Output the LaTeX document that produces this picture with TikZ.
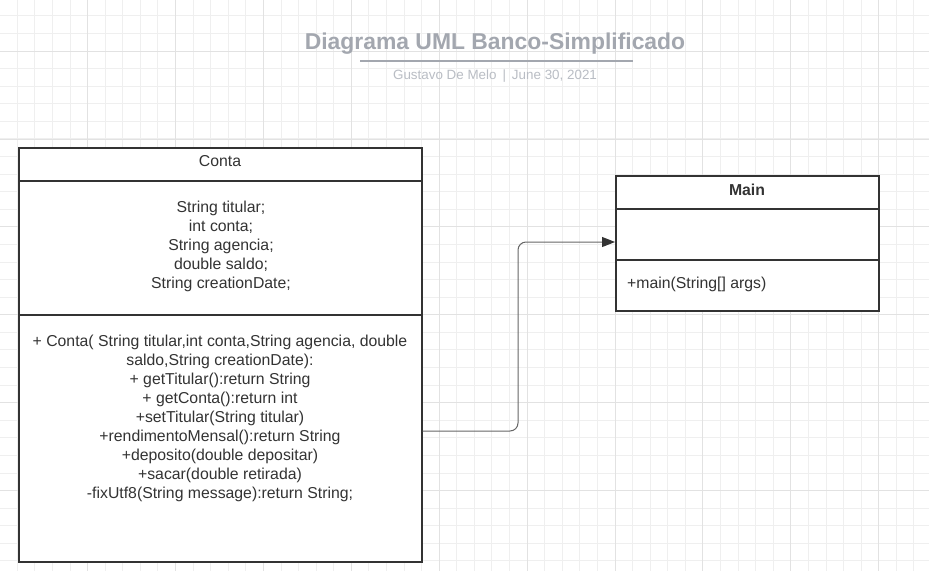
\documentclass[tikz,border=0pt]{standalone}
\usepackage{fontspec}
\setmainfont{Liberation Sans}
\usetikzlibrary{arrows.meta}
\definecolor{gridminor}{HTML}{EFEFEF}
\definecolor{gridmajor}{HTML}{E2E2E2}
\definecolor{titlegray}{HTML}{A3A7AF}
\definecolor{subgray}{HTML}{B9BDC4}
\definecolor{ink}{HTML}{333333}
\definecolor{wire}{HTML}{666666}
\tikzset{
  umlbox/.style={draw=ink, line width=1.6pt, fill=white, rectangle, inner sep=0pt, anchor=north west, text=ink, font=\fontsize{15.8}{19}\selectfont},
  bodytext/.style={text=ink, font=\fontsize{15.8}{19}\selectfont, align=center, inner sep=0pt},
  conn/.style={draw=wire, line width=1pt, rounded corners=8pt, -{Triangle[length=13pt,width=10pt,fill=ink,color=ink]}}
}
\begin{document}
\begin{tikzpicture}[x=1pt,y=-1pt]
\useasboundingbox (0,0) rectangle (929,571);
\fill[white] (0,0) rectangle (929,571);
% grid
\foreach \i in {0,...,53} {
  \pgfmathsetmacro{\gx}{-0.4+17.58*\i}
  \draw[gridminor, line width=0.7pt] (\gx,0) -- (\gx,571);
}
\foreach \i in {0,...,33} {
  \pgfmathsetmacro{\gy}{-1.8+17.58*\i}
  \draw[gridminor, line width=0.7pt] (0,\gy) -- (929,\gy);
}
\foreach \i in {0,...,10} {
  \pgfmathsetmacro{\gx}{-0.4+87.9*\i}
  \draw[gridmajor, line width=0.8pt] (\gx,0) -- (\gx,571);
}
\foreach \i in {0,...,6} {
  \pgfmathsetmacro{\gy}{51-87.9+87.9*\i}
  \draw[gridmajor, line width=0.8pt] (0,\gy) -- (929,\gy);
}
% title
\node[text=titlegray, font=\fontsize{22.9}{26}\selectfont\bfseries, inner sep=0pt] (title) at (495,44) {Diagrama UML Banco-Simplificado};
\draw[titlegray, line width=1.5pt] (360,61) -- (633,61);
\node[text=subgray, font=\fontsize{13.4}{15}\selectfont, inner sep=0pt] (sub) at (495,76) {Gustavo De Melo \,|\, June 30, 2021};
% Conta
\node[umlbox, minimum width=403pt, minimum height=33pt] (contaH) at (18,147) {};
\node[bodytext] (contaT) at (220,161.5) {Conta};
\node[umlbox, minimum width=403pt, minimum height=134pt] (contaA) at (18,180) {};
\node[umlbox, minimum width=403pt, minimum height=247pt] (contaM) at (18,314) {};
\node[bodytext] (attrs) at (221,246) {String titular;\\int conta;\\String agencia;\\double saldo;\\String creationDate;};
\node[bodytext, anchor=north] (meths) at (220,335) {+ Conta( String titular,int conta,String agencia, double\\saldo,String creationDate):\\+ getTitular():return String\\+ getConta():return int\\+setTitular(String titular)\\+rendimentoMensal():return String\\+deposito(double depositar)\\+sacar(double retirada)\\-fixUtf8(String message):return String;};
% Main
\node[umlbox, minimum width=263pt, minimum height=33pt] (mainH) at (615,175) {};
\node[bodytext, font=\fontsize{15.8}{19}\selectfont\bfseries] (mainT) at (747,190) {Main};
\node[umlbox, minimum width=263pt, minimum height=51pt] (mainA) at (615,208) {};
\node[umlbox, minimum width=263pt, minimum height=51pt] (mainM) at (615,259) {};
\node[bodytext, anchor=west] (mainop) at (627,284.5) {+main(String[] args)};
% connector
\coordinate (c1) at (518,431);
\draw[conn] (contaM.east |- c1) -- (c1) -- (518,242) -- (mainA.west |- 0,242);
\end{tikzpicture}
\end{document}
